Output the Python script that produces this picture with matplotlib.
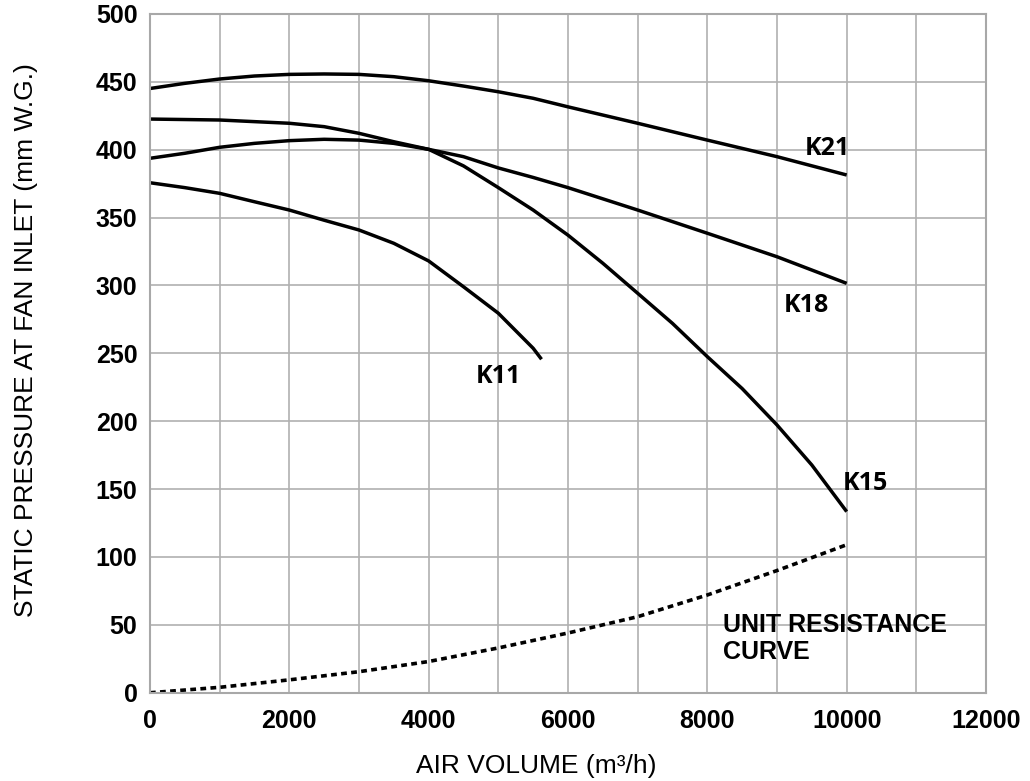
import matplotlib
matplotlib.use("Agg")
import matplotlib.pyplot as plt

# fan curves (air volume m3/h -> static pressure mm W.G.)
x_k21 = [0, 500, 1000, 1500, 2000, 2500, 3000, 3500, 4000, 4500, 5000, 5500,
         6000, 7000, 8000, 9000, 10000]
y_k21 = [445, 448.8, 452, 454.2, 455.4, 455.7, 455.4, 453.7, 450.7, 446.8,
         442.6, 437.8, 431.5, 419.4, 407, 394.8, 381.3]

x_k18 = [0, 500, 1000, 1500, 2000, 2500, 3000, 3500, 4000, 4500, 5000, 5500,
         6000, 7000, 8000, 9000, 10000]
y_k18 = [393.6, 397.3, 401.7, 404.6, 406.6, 407.6, 407, 404.6, 400.2, 394.8,
         386.5, 379.5, 372, 355.5, 338.4, 321.1, 301.5]

x_k15 = [0, 1000, 2000, 2500, 3000, 3500, 4000, 4500, 5000, 5500, 6000, 6500,
         7000, 7500, 8000, 8500, 9000, 9500, 10000]
y_k15 = [422.5, 421.8, 419.4, 416.9, 412, 405.8, 400.2, 388, 372, 355.5, 337,
         316.3, 294.2, 272, 247.5, 224, 197.2, 167.7, 133.4]

x_k11 = [0, 500, 1000, 1500, 2000, 2500, 3000, 3500, 4000, 4500, 5000, 5500, 5620]
y_k11 = [375.6, 372, 367.8, 361.6, 355.5, 348, 340.8, 331, 318, 299, 279.5,
         253.7, 245.6]

x_res = [0, 1000, 2000, 3000, 4000, 5000, 6000, 7000, 8000, 9000, 10000]
y_res = [0, 4, 9.5, 15.5, 23, 33, 44, 56, 72, 90, 109]

labels = ["K21", "K18", "K15", "K11"]
label_x = [9730, 9420, 10270, 5005]
label_y = [396, 280.6, 149, 228.4]

x_ticks = [0, 2000, 4000, 6000, 8000, 10000, 12000]
y_ticks = [0, 50, 100, 150, 200, 250, 300, 350, 400, 450, 500]

plt.rcParams["font.family"] = "Liberation Sans"

fig = plt.figure(figsize=(10.3, 7.81), dpi=100)
ax = fig.add_axes([0.1456, 0.1130, 0.8117, 0.8693])

for xs, ys in [(x_k21, y_k21), (x_k18, y_k18), (x_k15, y_k15), (x_k11, y_k11)]:
    ax.plot(xs, ys, color="black", lw=2.5, solid_capstyle="butt",
            solid_joinstyle="round")

ax.plot(x_res, y_res, color="black", lw=2.6, ls=(0, (1.6, 1.2)))

for lab, lx, ly in zip(labels, label_x, label_y):
    ax.text(lx, ly, lab, ha="center", va="baseline", fontsize=18,
            fontweight="bold", family="Open Sans")

ax.text(8220, 59, "UNIT RESISTANCE\nCURVE", ha="left", va="top", fontsize=18,
        fontweight="bold", linespacing=1.2)

ax.set_xlim(0, 12000)
ax.set_ylim(0, 500)
ax.set_xticks(x_ticks)
ax.set_yticks(y_ticks)
ax.set_xticks(range(0, 12001, 1000), minor=True)
ax.grid(True, which="both", color="#b0b0b0", lw=1.2)
ax.set_axisbelow(True)
ax.tick_params(which="both", length=0, labelsize=18)
ax.tick_params(axis="x", pad=12)
ax.tick_params(axis="y", pad=9)
for t in ax.get_xticklabels() + ax.get_yticklabels():
    t.set_fontweight("bold")
for s in ax.spines.values():
    s.set_color("#a8a8a8")
    s.set_linewidth(1.5)

ax.set_xlabel("AIR VOLUME (m³/h)", fontsize=19)
ax.set_ylabel("STATIC PRESSURE AT FAN INLET (mm W.G.)", fontsize=19)
ax.xaxis.set_label_coords(0.462, -0.09)
ax.yaxis.set_label_coords(-0.134, 0.519)

fig.savefig("out.png", dpi=100)
